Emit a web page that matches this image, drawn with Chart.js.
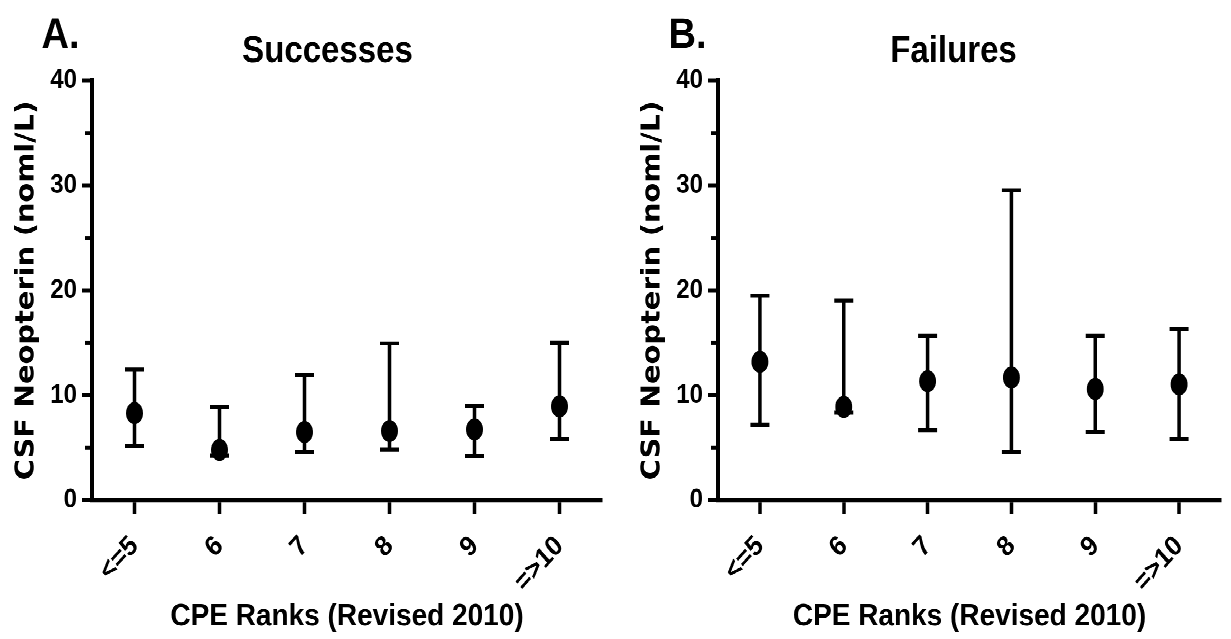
<!DOCTYPE html>
<html><head><meta charset="utf-8">
<script src="https://cdn.jsdelivr.net/npm/chart.js@4.4.1/dist/chart.umd.min.js"></script>
<style>
html,body{margin:0;padding:0;background:#fff;overflow:hidden;}
#stage{position:absolute;left:0;top:0;width:1231px;height:566px;transform:scaleY(1.129);transform-origin:0 0;background:#fff;}
#pa{position:absolute;left:0;top:0;}
#pb{position:absolute;left:626px;top:0;}
</style></head><body>
<div id="stage"><canvas id="pa" width="612" height="566"></canvas><canvas id="pb" width="605" height="566"></canvas></div>
<script>
// ---- data ----
const categories = ['<=5', '6', '7', '8', '9', '=>10'];
const yTickValues = [0, 10, 20, 30, 40];
const minorTickValues = [5, 15, 25, 35];
const successMean  = [8.3, 4.8, 6.5, 6.6, 6.75, 8.95];
const successLower = [5.2, 4.25, 4.6, 4.85, 4.2, 5.8];
const successUpper = [12.45, 8.9, 11.95, 14.95, 9.0, 15.0];
const failureMean  = [13.2, 8.9, 11.35, 11.7, 10.6, 11.05];
const failureLower = [7.2, 8.35, 6.65, 4.6, 6.5, 5.85];
const failureUpper = [19.5, 19.05, 15.7, 29.55, 15.7, 16.3];
const yTitle = 'CSF Neopterin (noml/L)';
const xTitle = 'CPE Ranks (Revised 2010)';

// ---- plugins ----
const headerPlugin = {
  id: 'header',
  afterDraw(chart, args, o) {
    const ctx = chart.ctx;
    ctx.save();
    ctx.fillStyle = '#000';
    ctx.textBaseline = 'alphabetic';
    ctx.font = 'bold 38px "Liberation Sans", Arial, sans-serif';
    ctx.textAlign = 'left';
    ctx.fillText(o.letter, o.letterX, 42.5);
    ctx.font = 'bold 33px "Liberation Sans", Arial, sans-serif';
    ctx.textAlign = 'center';
    ctx.fillText(o.title, 327.5, 55);
    ctx.restore();
  }
};
const errorBarPlugin = {
  id: 'errorBars',
  beforeDatasetsDraw(chart, args, o) {
    const ctx = chart.ctx, xs = chart.scales.x, ys = chart.scales.y;
    ctx.save();
    ctx.strokeStyle = '#000';
    ctx.lineCap = 'butt';
    o.lower.forEach((lo, i) => {
      const x = xs.getPixelForValue(i);
      const yl = ys.getPixelForValue(lo);
      const yu = ys.getPixelForValue(o.upper[i]);
      ctx.lineWidth = 3.5;
      ctx.beginPath(); ctx.moveTo(x, yl); ctx.lineTo(x, yu); ctx.stroke();
      ctx.lineWidth = 3.6;
      ctx.beginPath();
      ctx.moveTo(x - 9.5, yl); ctx.lineTo(x + 9.5, yl);
      ctx.moveTo(x - 9.5, yu); ctx.lineTo(x + 9.5, yu);
      ctx.stroke();
    });
    ctx.restore();
  }
};
const minorTickPlugin = {
  id: 'minorTicks',
  afterDraw(chart) {
    const ys = chart.scales.y, ctx = chart.ctx;
    ctx.save();
    ctx.strokeStyle = '#000';
    ctx.lineWidth = 3.5;
    minorTickValues.forEach(v => {
      const y = ys.getPixelForValue(v);
      ctx.beginPath(); ctx.moveTo(ys.right - 7, y); ctx.lineTo(ys.right, y); ctx.stroke();
    });
    ctx.restore();
  }
};

function makeChart(id, mean, lower, upper, letter, letterX, title, padRight, marker) {
  return new Chart(document.getElementById(id), {
    type: 'line',
    data: {
      labels: categories,
      datasets: [{
        data: mean,
        showLine: false,
        pointStyle: marker,
        pointRadius: 9,
        borderColor: '#000',
        backgroundColor: '#000'
      }]
    },
    options: {
      responsive: false,
      animation: false,
      devicePixelRatio: 2,
      layout: { padding: { top: 71.4, right: padRight, bottom: 0, left: 0 } },
      plugins: {
        legend: { display: false },
        tooltip: { enabled: false },
        header: { letter: letter, letterX: letterX, title: title },
        errorBars: { lower: lower, upper: upper }
      },
      scales: {
        x: {
          type: 'category',
          offset: true,
          grid: { display: true, drawOnChartArea: false, drawTicks: true, tickLength: 12, tickWidth: 3.5, tickColor: '#000', offset: false },
          border: { display: true, color: '#000', width: 3.6 },
          ticks: {
            color: '#000', autoSkip: false, minRotation: 45, maxRotation: 45, padding: 14,
            font: { family: '"Liberation Sans", Arial, sans-serif', weight: 'bold', size: 25 }
          },
          title: {
            display: true, text: xTitle, color: '#000',
            font: { family: '"Liberation Sans", Arial, sans-serif', weight: 'bold', size: 28, lineHeight: 1.2 },
            padding: { top: 0, bottom: 3 }
          },
          afterFit: s => { s.height = 122.9; }
        },
        y: {
          min: 0, max: 40,
          afterBuildTicks: s => { s.ticks = yTickValues.map(v => ({ value: v })); },
          grid: { display: true, drawOnChartArea: false, drawTicks: true, tickLength: 10, tickWidth: 3.5, tickColor: '#000' },
          border: { display: true, color: '#000', width: 4 },
          ticks: {
            color: '#000', padding: 5,
            font: { family: '"Liberation Sans", Arial, sans-serif', weight: 'bold', size: 24 }
          },
          title: {
            display: true, text: yTitle, color: '#000',
            font: { family: '"DejaVu Sans", Verdana, sans-serif', weight: 'bold', size: 25.5, lineHeight: 1 },
            padding: { top: 14, bottom: 0 }
          },
          afterFit: s => { s.width = 92; }
        }
      }
    },
    plugins: [headerPlugin, errorBarPlugin, minorTickPlugin]
  });
}

const svg = '<svg xmlns="http://www.w3.org/2000/svg" width="17" height="20" viewBox="0 0 17 20"><ellipse cx="8.5" cy="10" rx="8.5" ry="9.8" fill="black"/></svg>';
const marker = new Image(17, 20);
function build() {
  makeChart('pa', successMean, successLower, successUpper, 'A.', 41.5, 'Successes', 5, marker);
  makeChart('pb', failureMean, failureLower, failureUpper, 'B.', 42.5, 'Failures', 0, marker);
}
marker.onload = build;
marker.onerror = build;
marker.src = 'data:image/svg+xml;charset=utf-8,' + encodeURIComponent(svg);
</script>
</body></html>
